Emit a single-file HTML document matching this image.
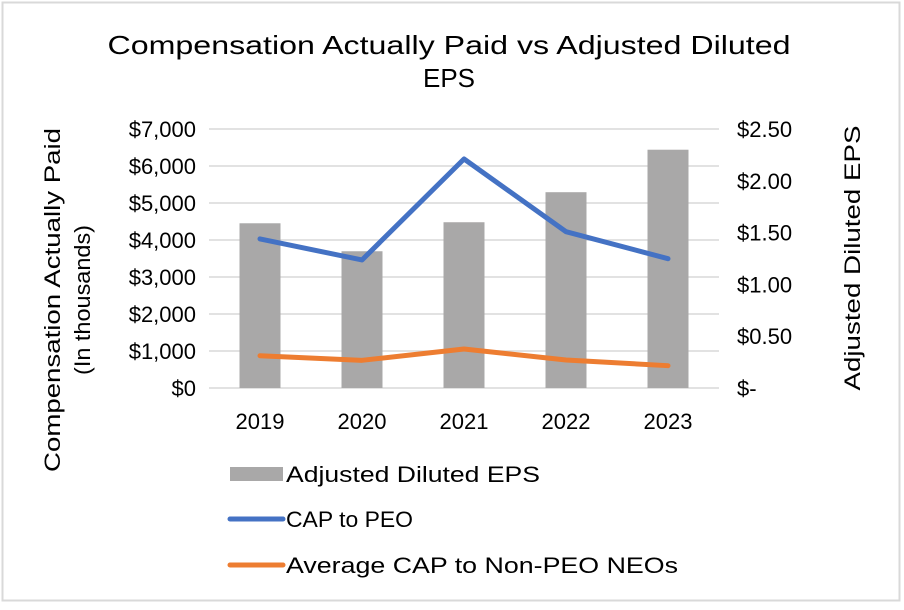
<!DOCTYPE html>
<html><head><meta charset="utf-8"><style>
html,body{margin:0;padding:0;background:#fff;}
svg{display:block;font-family:"Liberation Sans",Arial,sans-serif;}
</style></head><body>
<svg id="chart" width="904" height="610" viewBox="0 0 904 610">
<rect x="2.5" y="2.5" width="897" height="598" fill="#fff" stroke="#d9d9d9" stroke-width="2"/>
<text x="449" y="54" font-size="26" fill="#000" text-anchor="middle" textLength="683" lengthAdjust="spacingAndGlyphs">Compensation Actually Paid vs Adjusted Diluted</text>
<text x="449" y="87" font-size="26" fill="#000" text-anchor="middle">EPS</text>
<g id="grid"></g><g id="bars"></g><g id="lines"></g><g id="axes"></g>
<text transform="translate(60,300) rotate(-90)" font-size="22" text-anchor="middle" fill="#000" textLength="344" lengthAdjust="spacingAndGlyphs">Compensation Actually Paid</text>
<text transform="translate(90,300) rotate(-90)" font-size="22" text-anchor="middle" fill="#000" textLength="150" lengthAdjust="spacingAndGlyphs">(In thousands)</text>
<text transform="translate(860,258) rotate(-90)" font-size="22" text-anchor="middle" fill="#000" textLength="265" lengthAdjust="spacingAndGlyphs">Adjusted Diluted EPS</text>
<g>
<rect x="230" y="467" width="53" height="14" fill="#a9a8a8"/>
<text x="286" y="482" font-size="22" textLength="254" lengthAdjust="spacingAndGlyphs">Adjusted Diluted EPS</text>
<line x1="230" y1="519" x2="283" y2="519" stroke="#4472c4" stroke-width="5" stroke-linecap="round"/>
<text x="286" y="527" font-size="22" textLength="127" lengthAdjust="spacingAndGlyphs">CAP to PEO</text>
<line x1="230" y1="565" x2="283" y2="565" stroke="#ed7d31" stroke-width="5" stroke-linecap="round"/>
<text x="286" y="573" font-size="22" textLength="392" lengthAdjust="spacingAndGlyphs">Average CAP to Non-PEO NEOs</text>
</g>
</svg>
<script>
const categories = ["2019","2020","2021","2022","2023"];
const epsValues = [1.59, 1.32, 1.60, 1.89, 2.30];
const peoValues = [4030, 3460, 6190, 4225, 3495];
const neoValues = [873, 748, 1054, 757, 603];
const leftTicks = [0,1000,2000,3000,4000,5000,6000,7000];
const leftTickLabels = ["$0","$1,000","$2,000","$3,000","$4,000","$5,000","$6,000","$7,000"];
const rightTicks = [0,0.5,1,1.5,2,2.5];
const rightTickLabels = ["$-","$0.50","$1.00","$1.50","$2.00","$2.50"];

const NS="http://www.w3.org/2000/svg";
const X0=209, X1=719, Y0=388, Y1=129;
const band=(X1-X0)/categories.length;
const xc=i=>X0+band*(i+0.5);
const yL=v=>Y0-(v/7000)*(Y0-Y1);
const yR=v=>Y0-(v/2.5)*(Y0-Y1);
function mk(tag,attrs,parent){const e=document.createElementNS(NS,tag);for(const k in attrs)e.setAttribute(k,attrs[k]);document.getElementById(parent).appendChild(e);return e;}

leftTicks.forEach((t,i)=>{
  const g=mk("line",{x1:X0,x2:X1,y1:yL(t),y2:yL(t),stroke:"#d9d9d9","stroke-width":1.5},"grid");
  
  
  const l=mk("text",{x:196,y:yL(t)+8,"font-size":22,"text-anchor":"end",fill:"#000"},"axes");
  l.textContent=leftTickLabels[i];
  
  
});
rightTicks.forEach((t,i)=>{
  const l=mk("text",{x:737,y:yR(t)+8,"font-size":22,fill:"#000"},"axes");
  l.textContent=rightTickLabels[i];
  
  
});
categories.forEach((c,i)=>{
  const l=mk("text",{x:xc(i),y:429,"font-size":22,"text-anchor":"middle",fill:"#000"},"axes");
  l.textContent=c;
  
  
  const b=mk("rect",{x:xc(i)-20.5,y:yR(epsValues[i]),width:41,height:Y0-yR(epsValues[i]),fill:"#a9a8a8"},"bars");
  
  
});
function line(vals,color,name){
  const p=mk("polyline",{points:vals.map((v,i)=>xc(i)+","+yL(v)).join(" "),fill:"none",stroke:color,"stroke-width":5,"stroke-linejoin":"round","stroke-linecap":"round"},"lines");
  
  
}
line(peoValues,"#4472c4","cap-to-peo-line");
line(neoValues,"#ed7d31","avg-cap-non-peo-line");
</script>
</body></html>
